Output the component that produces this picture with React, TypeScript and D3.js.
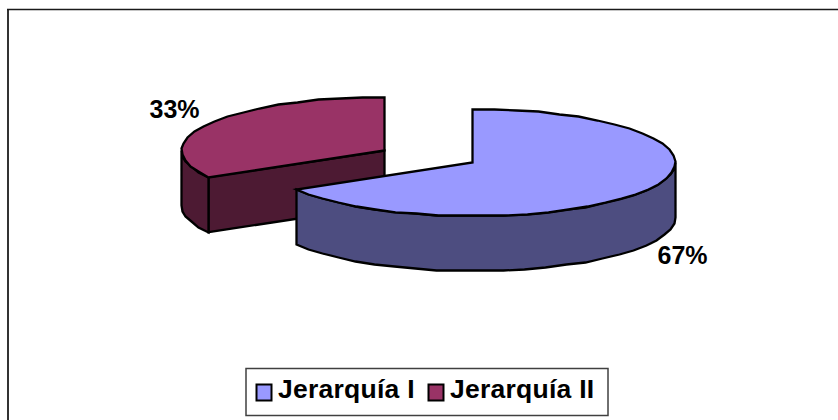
import React from "react";
import * as d3 from "d3";

const categories = ["Jerarquía I", "Jerarquía II"];
const values = [66.7, 33.3];
const labels = ["67%", "33%"];
const topColors = ["#9999ff", "#993366"];
const sideColors = ["#4d4d80", "#4d1a33"];

const W = 838;
const H = 420;
const RX = 203;
const RY = 53.5;
const DEPTH = 55;
const centers: [number, number][] = [
  [472.5, 162.5],
  [384.5, 150.5],
];

const pie = d3.pie<number>().sort(null)(values);
const pt = (c: [number, number], t: number, dy = 0): [number, number] => [
  c[0] + RX * Math.sin(t),
  c[1] - RY * Math.cos(t) + dy,
];
const arcPts = (c: [number, number], a: number, b: number, dy = 0) => {
  const n = Math.max(2, Math.round(Math.abs(b - a) / 0.11));
  return d3.range(n + 1).map((i): [number, number] => {
    const p = pt(c, a + ((b - a) * i) / n, dy);
    return [Math.round(p[0] - 0.5) + 0.5, Math.round(p[1] - 0.5) + 0.5];
  });
};
const line = d3.line();

function topPath(i: number) {
  const c = centers[i];
  return line([c, ...arcPts(c, pie[i].startAngle, pie[i].endAngle)])! + "Z";
}
function wallPath(c: [number, number], a: number, b: number) {
  return line([...arcPts(c, a, b), ...arcPts(c, b, a, DEPTH)])! + "Z";
}
function cutPath(i: number) {
  const c = centers[i];
  const e = pt(c, pie[i].startAngle);
  return line([c, e, [e[0], e[1] + DEPTH], [c[0], c[1] + DEPTH]])! + "Z";
}

const stroke = { stroke: "#000", strokeWidth: 2.3, strokeLinejoin: "miter" as const };
const font = "'Liberation Sans', Arial, sans-serif";

export default function App() {
  const a = pie[0];
  const b = pie[1];
  return (
    <svg
      width={W}
      height={H}
      style={{ position: "absolute", left: 0, top: 0, background: "#fff" }}
    >
      <path d="M8 430V9.5" fill="none" stroke="#333" strokeWidth={2} />
      <path d="M7 9.5H838" fill="none" stroke="#1a1a1a" strokeWidth={1.6} />

      {/* Jerarquía II (exploded slice, behind) */}
      <path d={cutPath(1)} fill={sideColors[1]} {...stroke} />
      <path d={wallPath(centers[1], b.startAngle, Math.PI * 1.5)} fill={sideColors[1]} {...stroke} />
      <path d={topPath(1)} fill={topColors[1]} {...stroke} />

      {/* Jerarquía I */}
      <path d={wallPath(centers[0], Math.PI / 2, a.endAngle)} fill={sideColors[0]} {...stroke} />
      <path d={topPath(0)} fill={topColors[0]} {...stroke} />

      <g fontFamily={font} fontWeight="bold" fontSize={25} fill="#000">
        <text x={149.5} y={118}>{labels[1]}</text>
        <text x={657.5} y={264}>{labels[0]}</text>
      </g>

      <rect x={246} y={368.5} width={362} height={47} fill="#fff" stroke="#404040" strokeWidth={1.5} />
      <g fontFamily={font} fontWeight="bold" fontSize={26.5} letterSpacing={0.25} fill="#000">
        {categories.map((c, i) => {
          const sx = [256, 428][i];
          const tx = [278, 450][i];
          return (
            <g key={c}>
              <rect x={sx + 0.5} y={384.5} width={15} height={16} fill={topColors[i]} stroke="#000" strokeWidth={2} />
              <text x={tx} y={398}>{c}</text>
            </g>
          );
        })}
      </g>
    </svg>
  );
}
